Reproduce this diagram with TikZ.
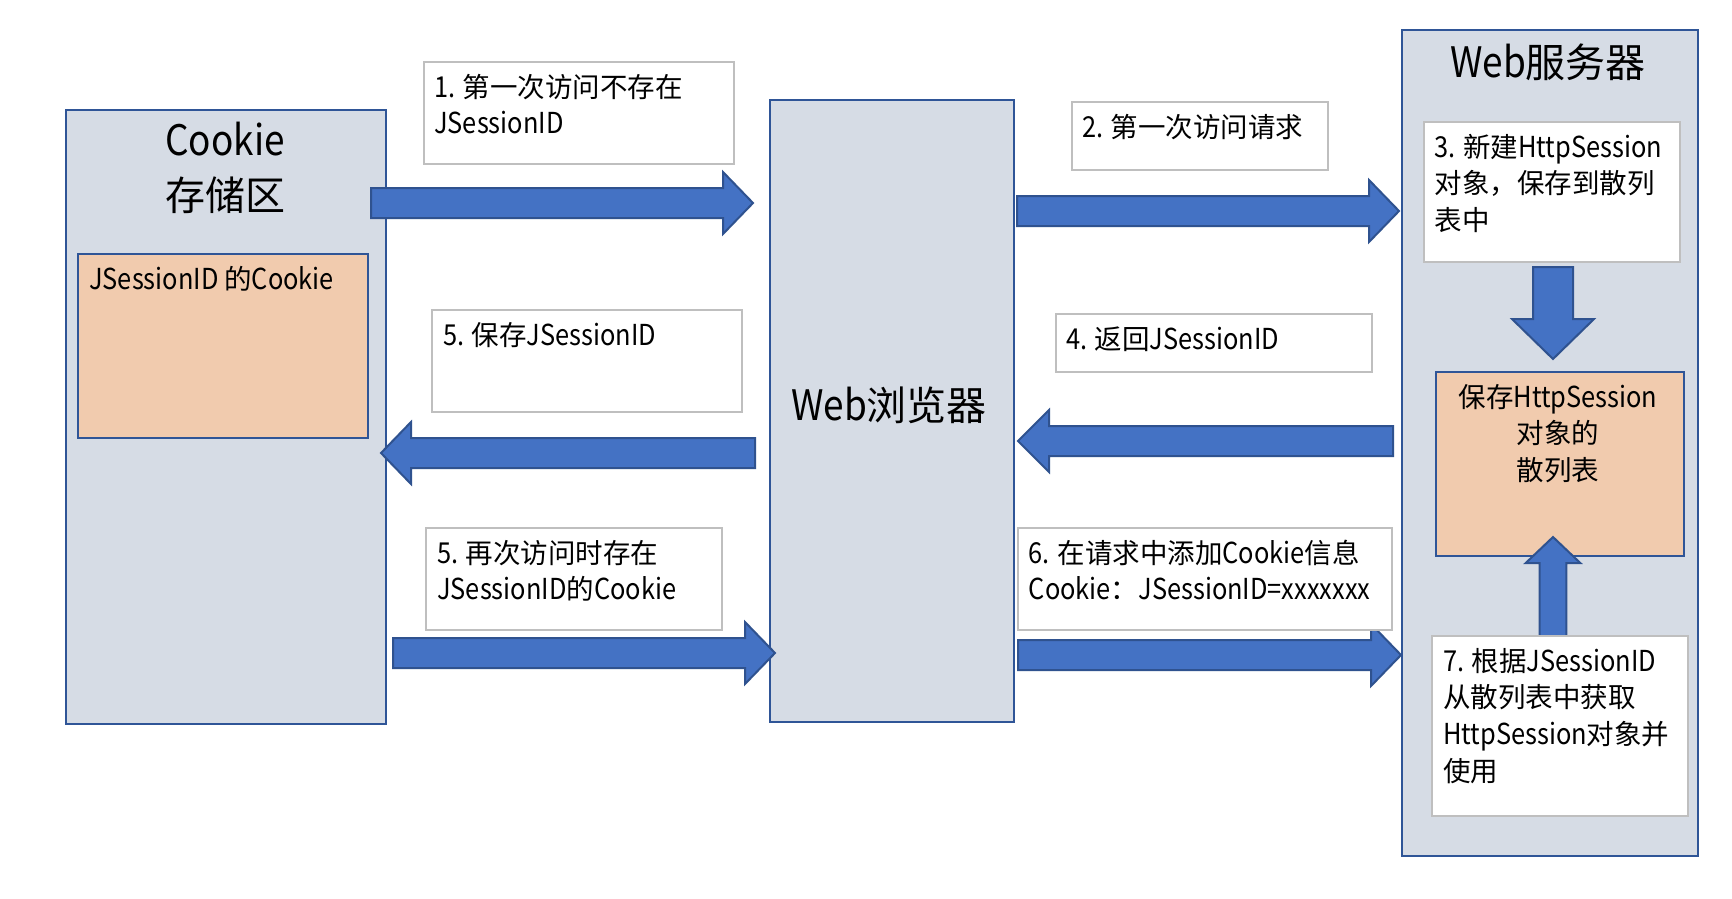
\documentclass[tikz,border=0pt]{standalone}
\usepackage{fontspec}
\setmainfont{Noto Sans CJK SC}
\newfontfamily\latf[FakeStretch=0.88,Scale=1.05]{Noto Sans CJK SC}
\newcommand\La[1]{{\latf #1}}
\definecolor{panelfill}{HTML}{D6DCE5}
\definecolor{panelline}{HTML}{2F5597}
\definecolor{arrfill}{HTML}{4472C4}
\definecolor{arrline}{HTML}{2F528F}
\definecolor{orfill}{HTML}{F1CBAE}
\definecolor{boxline}{HTML}{BFBFBF}
\tikzset{
  panel/.style={draw=panelline, fill=panelfill, line width=2pt, anchor=north west, inner sep=0pt},
  orbox/.style={draw=panelline, fill=orfill, line width=2pt, anchor=north west, inner sep=0pt},
  tbox/.style={draw=boxline, fill=white, line width=2.2pt, anchor=north west, inner sep=0pt},
  fat/.style={draw=arrline, fill=arrfill, line width=2pt, line join=miter},
  txt/.style={anchor=north west, inner sep=0pt, align=left, font=\fontsize{27.5}{36.7}\selectfont},
  ctxt/.style={anchor=north, inner sep=0pt, align=center, font=\fontsize{27.5}{36.7}\selectfont},
  ttl/.style={inner sep=0pt, align=center, font=\fontsize{40}{55}\selectfont},
}
% horizontal block arrow: shaft start x, head base x, tip x, y, shaft half, head half
\newcommand\harrow[6]{\draw[fat] (#1,#4-#5) -- (#2,#4-#5) -- (#2,#4-#6) -- (#3,#4) -- (#2,#4+#6) -- (#2,#4+#5) -- (#1,#4+#5) -- cycle;}
% vertical block arrow: x, shaft start y, head base y, tip y, shaft half, head half
\newcommand\varrow[6]{\draw[fat] (#1-#5,#2) -- (#1-#5,#3) -- (#1-#6,#3) -- (#1,#4) -- (#1+#6,#3) -- (#1+#5,#3) -- (#1+#5,#2) -- cycle;}
\newcommand\lead{\rule{0pt}{28pt}}
\begin{document}
\begin{tikzpicture}[x=1pt,y=-1pt]
\useasboundingbox (0,0) rectangle (1732,898);
\fill[white] (0,0) rectangle (1732,898);

% panels
\node[panel, minimum width=320pt, minimum height=614pt] (cookie) at (65,109) {};
\node[panel, minimum width=244pt, minimum height=622pt] (browser) at (769,99) {};
\node[panel, minimum width=296pt, minimum height=826pt] (server) at (1401,29) {};

% titles
\node[ttl, anchor=north] (cookiettl) at (225,115) {\rule{0pt}{40pt}\La{Cookie}\\存储区};
\node[ttl, anchor=base] (browserttl) at (889,420) {\La{Web}浏览器};
\node[ttl, anchor=base] (serverttl) at (1548,77) {\La{Web}服务器};

% orange boxes
\node[orbox, minimum width=290pt, minimum height=184pt] (cstore) at (77,253) {};
\node[txt] (cstoretxt) at (89,261) {\lead \La{JSessionID }的\La{Cookie}};
\node[orbox, minimum width=248pt, minimum height=184pt] (table) at (1435,371) {};
\node[ctxt] (tabletxt) at (1558,379) {\lead 保存\La{HttpSession}\\对象的\\散列表};

% block arrows
\harrow{371}{723}{753}{203}{15}{31}
\harrow{1017}{1369}{1399}{211}{15}{31}
\harrow{1393}{1049}{1018}{441}{15}{31}
\harrow{755}{411}{381}{453}{15}{31}
\harrow{393}{745}{775}{653}{15}{31}
\harrow{1018}{1371}{1401}{655}{15}{31}
\varrow{1553}{267}{319}{359}{20}{41}
\varrow{1553}{640}{563}{537}{13.3}{27.3}

% text boxes
\node[tbox, minimum width=310pt, minimum height=102pt] (b1) at (423,61) {};
\node[txt] (t1) at (434,69) {\lead \La{1. }第一次访问不存在\\\La{JSessionID}};
\node[tbox, minimum width=256pt, minimum height=68pt] (b2) at (1071,101) {};
\node[txt] (t2) at (1082,109) {\lead \La{2. }第一次访问请求};
\node[tbox, minimum width=256pt, minimum height=140pt] (b3) at (1423,121) {};
\node[txt] (t3) at (1434.5,129) {\lead \La{3. }新建\La{HttpSession}\\对象，保存到散列\\表中};
\node[tbox, minimum width=316pt, minimum height=58pt] (b4) at (1055,313) {};
\node[txt] (t4) at (1066,321) {\lead \La{4. }返回\La{JSessionID}};
\node[tbox, minimum width=310pt, minimum height=102pt] (b5) at (431,309) {};
\node[txt] (t5) at (443,317) {\lead \La{5. }保存\La{JSessionID}};
\node[tbox, minimum width=296pt, minimum height=102pt] (b5b) at (425,527) {};
\node[txt] (t5b) at (437,535) {\lead \La{5. }再次访问时存在\\\La{JSessionID}的\La{Cookie}};
\node[tbox, minimum width=374pt, minimum height=102pt] (b6) at (1017,527) {};
\node[txt] (t6) at (1028.6,535) {\lead \La{6. }在请求中添加\La{Cookie}信息\\\La{Cookie}：\La{JSessionID=xxxxxxx}};
\node[tbox, minimum width=256pt, minimum height=180pt] (b7) at (1431,635) {};
\node[txt] (t7) at (1443,643) {\lead \La{7. }根据\La{JSessionID}\\从散列表中获取\\\La{HttpSession}对象并\\使用};
\end{tikzpicture}
\end{document}
